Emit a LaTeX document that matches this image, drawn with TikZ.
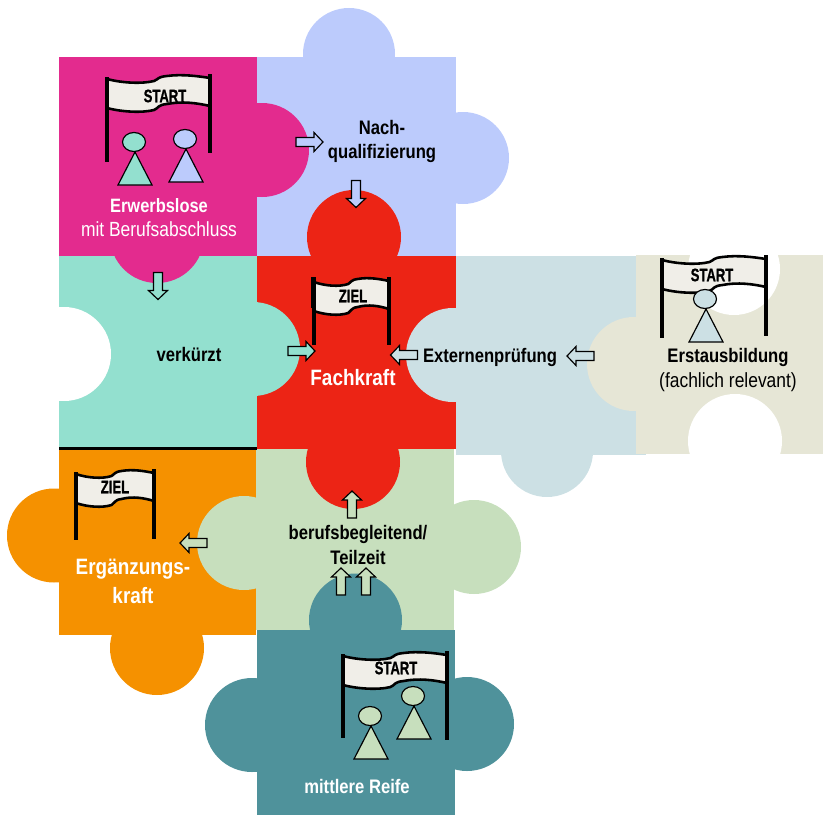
\documentclass[tikz,border=0pt]{standalone}
\usepackage{fontspec}
\usepackage{xcolor}
\usepackage{tikz}
\setmainfont[FakeStretch=0.85]{Liberation Sans}
\newfontfamily\flagfont[FakeStretch=0.72,BoldFeatures={FakeBold=0.7}]{Liberation Sans}

\definecolor{pinkc}{HTML}{E32B8E}
\definecolor{bluec}{HTML}{BCCBFC}
\definecolor{mintc}{HTML}{93E0CF}
\definecolor{redc}{HTML}{EC2415}
\definecolor{greyc}{HTML}{CCE0E4}
\definecolor{beigec}{HTML}{E6E6D6}
\definecolor{orangec}{HTML}{F59100}
\definecolor{greenc}{HTML}{C7DFBD}
\definecolor{tealc}{HTML}{4F929B}
\definecolor{flagc}{HTML}{F0EEE8}

\tikzset{
  boldlab/.style={font=\fontsize{16.7}{21}\selectfont\bfseries, align=center, inner sep=0pt},
  mixlab/.style={font=\fontsize{17.5}{21}\selectfont, align=center, inner sep=0pt},
  biglab/.style={font=\fontsize{19}{25}\selectfont\bfseries, align=center, inner sep=0pt, white},
  flaglab/.style={font=\fontsize{15.5}{16}\selectfont\flagfont\bfseries, inner sep=0pt},
  flagpole/.style={line width=3.8pt},
  flagedge/.style={line width=2.2pt},
  figline/.style={line width=1pt, line join=miter},
  arrowline/.style={line width=1pt, line join=miter}
}

\newcommand{\flagsign}[5]{
\begin{scope}[shift={(#1,#2)},xscale=#3/103]
\fill [flagc] (0,2) .. controls (15,6) and (35,7) .. (47,4) .. controls (52,2) and (50,0) .. (60,-1) .. controls (75,-3) and (90,-1) .. (103,1) -- (103,29) .. controls (90,26) and (75,24) .. (60,27) .. controls (50,28) and (52,31) .. (47,33) .. controls (35,36) and (15,35) .. (0,31) -- cycle;
\draw [flagedge] (0,2) .. controls (15,6) and (35,7) .. (47,4) .. controls (52,2) and (50,0) .. (60,-1) .. controls (75,-3) and (90,-1) .. (103,1);
\draw [flagedge] (103,29) .. controls (90,26) and (75,24) .. (60,27) .. controls (50,28) and (52,31) .. (47,33) .. controls (35,36) and (15,35) .. (0,31);
\draw [flagpole] (0,0) -- (0,#4);
\draw [flagpole] (103,-3) -- (103,#5);
\end{scope}
}

\newcommand{\person}[3]{
\draw [figline,fill=#3] (#1+1,#2+10) -- (#1+18,#2+43) -- (#1-16,#2+43) -- cycle;
\draw [figline,fill=#3] (#1,#2) ellipse [x radius=11.5, y radius=9.5];
}

\newcommand{\blockarrow}[4]{
\draw [arrowline,fill=#4,shift={(#1,#2)},rotate=#3] (-13.5,-4.5) -- (4.5,-4.5) -- (4.5,-9.5) -- (13.5,0) -- (4.5,9.5) -- (4.5,4.5) -- (-13.5,4.5) -- cycle;
}

\begin{document}
\begin{tikzpicture}[x=0.03cm,y=-0.03cm]
\useasboundingbox (0,0) rectangle (823,815);

% puzzle pieces
\fill [bluec] (257,57) rectangle (456,256);
\fill [bluec] (349,54) circle (46);
\fill [bluec] (463,158) circle (46);

\fill [greenc] (256,449) rectangle (454,630);
\fill [greenc] (474,547) circle (47);

\fill [greyc] (456,256) rectangle (646,455);
\fill [greyc] (547,451) circle (46);

\fill [orangec] (59,450) rectangle (256,635);
\fill [orangec] (54,535.5) circle (47);
\fill [orangec] (157,648) circle (47);

\fill [mintc] (59,256) rectangle (257,449);
\fill [white] (64,354) circle (47);

\fill [redc] (257,256) rectangle (456,449);
\fill [redc] (354,237) circle (47);
\fill [redc] (353,462) circle (47);

\fill [pinkc] (59,57) rectangle (257,256);
\fill [pinkc] (262,150) circle (47);
\fill [pinkc] (157,236) circle (47);

\fill [mintc] (253,349) circle (47);
\fill [greyc] (453,355) circle (47);
\fill [greenc] (244,543) circle (47);

\fill [tealc] (257,630) rectangle (455,815);
\fill [tealc] (355.5,620) circle (46.5);
\fill [tealc] (252,725) circle (47);
\fill [tealc] (467,724) circle (47);

\fill [beigec] (636,255) rectangle (823,454);
\fill [beigec] (634,364) circle (47);
\fill [white] (734,269) circle (46);
\fill [white] (735,441) circle (47);

\draw [line width=2.6pt] (59,448.5) -- (257,448.5);

% flags and figures
\flagsign{107}{77}{103}{85}{76}
\node [flaglab] (startpink) at (165,96) {START};
\person{134}{142}{mintc}
\person{185}{139}{bluec}

\flagsign{662}{258}{104}{80}{78}
\node [flaglab] (startbeige) at (712,275) {START};
\person{705}{299}{greyc}

\flagsign{343}{654}{104}{84}{86}
\node [flaglab] (startteal) at (396,668) {START};
\person{370}{716}{greenc}
\person{413}{696}{greenc}

\flagsign{314}{280}{75}{65}{65}
\draw [line width=4.6pt] (313.5,277) -- (313.5,308);
\node [flaglab] (zielred) at (353,296) {ZIEL};
\flagsign{76}{472}{78}{68}{67}
\node [flaglab] (zielorange) at (115,487) {ZIEL};

% arrows
\blockarrow{309.5}{142}{0}{bluec}
\blockarrow{356}{194}{270}{bluec}
\blockarrow{158}{286}{270}{mintc}
\blockarrow{301.5}{351}{0}{mintc}
\blockarrow{404}{355}{180}{greyc}
\blockarrow{580.5}{356}{180}{greyc}
\blockarrow{352}{504.5}{90}{greenc}
\blockarrow{341}{581.5}{90}{greenc}
\blockarrow{366}{581.5}{90}{greenc}
\blockarrow{193.5}{543}{180}{greenc}

% labels
\node [mixlab,white] (erwerbslose) at (159,217.5) {{\fontsize{16.5}{21}\selectfont\bfseries Erwerbslose}\\mit Berufsabschluss};
\node [boldlab] (nach) at (382,141.5) {Nach-\\qualifizierung};
\node [boldlab] (verkuerzt) at (189,355) {verkürzt};
\node [biglab] (fachkraft) at (353,378) {Fachkraft};
\node [boldlab] (extern) at (490,357) {Externenprüfung};
\node [mixlab] (erstaus) at (728,370) {{\fontsize{16.7}{21}\selectfont\bfseries Erstausbildung}\\(fachlich relevant)};
\node [boldlab] (begleitend) at (358,545) {berufsbegleitend/\\Teilzeit};
\node [biglab] (ergaenzung) at (133,581.5) {Ergänzungs-\\kraft};
\node [boldlab,white] (reife) at (357,786) {mittlere Reife};

\end{tikzpicture}
\end{document}
